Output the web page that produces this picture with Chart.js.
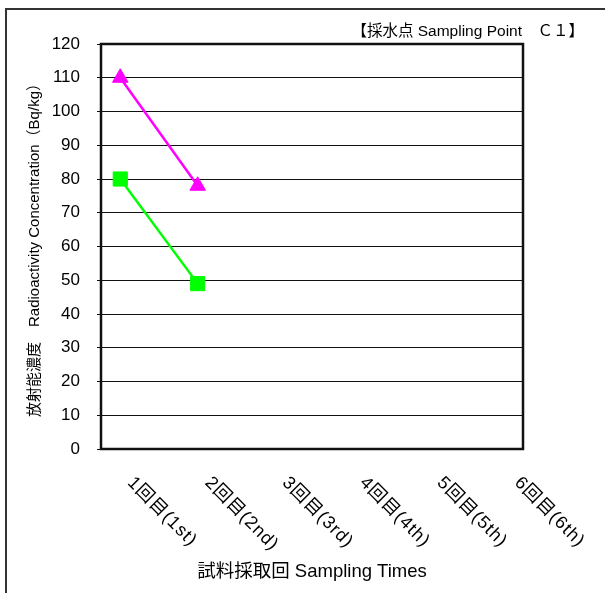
<!DOCTYPE html>
<html>
<head>
<meta charset="utf-8">
<script src="https://cdn.jsdelivr.net/npm/chart.js@4/dist/chart.umd.min.js"></script>
<style>
  html, body { margin: 0; padding: 0; background: #fff; }
  canvas { display: block; }
</style>
</head>
<body>
<canvas id="c" width="605" height="593"></canvas>
<script>
// Sampling rounds (x axis) and measured concentrations (Bq/kg)
const rounds = ['1回目(1st)', '2回目(2nd)', '3回目(3rd)', '4回目(4th)', '5回目(5th)', '6回目(6th)'];
const seriesMagenta = [110, 78, null, null, null, null];
const seriesGreen = [80, 49, null, null, null, null];
const yTicks = { min: 0, max: 120, step: 10 };

const headerText = '【採水点 Sampling Point　Ｃ１】';
const yTitle = '放射能濃度　Radioactivity Concentration（Bq/kg）';
const xTitle = '試料採取回 Sampling Times';

const FONT = "'Liberation Sans', 'Noto Sans CJK JP', sans-serif";

function toPoints(values) {
  return values.map((v, i) => ({ x: i + 1, y: v }));
}

// Frame, header, plot border and slanted round labels
const decor = {
  id: 'decor',
  beforeDraw(chart) {
    const ctx = chart.ctx;
    ctx.save();
    ctx.strokeStyle = '#333';
    ctx.lineWidth = 2;
    ctx.strokeRect(6, 9, 800, 800);
    ctx.restore();
  },
  beforeDatasetsDraw(chart) {
    const { ctx, chartArea: a } = chart;
    ctx.save();
    ctx.strokeStyle = '#111';
    ctx.lineWidth = 2.5;
    ctx.strokeRect(a.left, a.top, a.right - a.left, a.bottom - a.top);
    ctx.restore();
  },
  afterDraw(chart) {
    const { ctx, chartArea: a } = chart;
    const xs = chart.scales.x;
    ctx.save();
    ctx.fillStyle = '#000';
    ctx.font = '15.5px ' + FONT;
    ctx.textAlign = 'right';
    ctx.textBaseline = 'middle';
    ctx.fillText(headerText, 584, 32);

    ctx.font = '18px ' + FONT;
    ctx.letterSpacing = '1px';
    ctx.textAlign = 'left';
    ctx.textBaseline = 'middle';
    rounds.forEach((label, i) => {
      const px = xs.getPixelForValue(i + 1);
      ctx.save();
      ctx.translate(px + 10, a.bottom + 31);
      ctx.rotate(Math.PI / 4);
      ctx.fillText(label, 0, 0);
      ctx.restore();
    });
    ctx.restore();
  }
};

new Chart(document.getElementById('c'), {
  type: 'line',
  data: {
    datasets: [
      {
        label: 'series1',
        data: toPoints(seriesMagenta),
        borderColor: '#ff00ff',
        backgroundColor: '#ff00ff',
        borderWidth: 2.5,
        pointStyle: 'triangle',
        pointRadius: 9,
        pointBorderWidth: 1,
        tension: 0
      },
      {
        label: 'series2',
        data: toPoints(seriesGreen),
        borderColor: '#00ff00',
        backgroundColor: '#00ff00',
        borderWidth: 2.5,
        pointStyle: 'rect',
        pointRadius: 10,
        pointBorderWidth: 1,
        tension: 0
      }
    ]
  },
  options: {
    responsive: false,
    animation: false,
    devicePixelRatio: 1,
    layout: { padding: { top: 44, right: 82, left: 0, bottom: 0 } },
    plugins: {
      legend: { display: false },
      tooltip: { enabled: false },
      title: { display: false }
    },
    scales: {
      x: {
        type: 'linear',
        min: 0.751,
        max: 6.203,
        grid: { display: false },
        border: { display: false },
        ticks: { display: false },
        title: {
          display: true,
          text: xTitle,
          color: '#000',
          font: { family: FONT, size: 18.5 },
          padding: { top: 0, bottom: 10 }
        },
        afterFit(scale) { scale.height = 144; }
      },
      y: {
        min: yTicks.min,
        max: yTicks.max,
        grid: { color: '#111', lineWidth: 1, tickLength: 4, drawTicks: true },
        border: { display: false },
        ticks: {
          stepSize: yTicks.step,
          color: '#000',
          padding: 17,
          font: { family: FONT, size: 17 }
        },
        title: {
          display: true,
          text: yTitle,
          color: '#000',
          font: { family: FONT, size: 15 },
          padding: { top: 26, bottom: 0 }
        },
        afterFit(scale) { scale.width = 101; }
      }
    }
  },
  plugins: [decor]
});
</script>
</body>
</html>
